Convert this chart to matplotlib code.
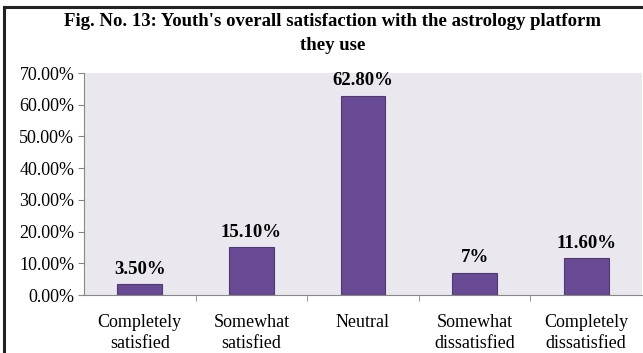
import matplotlib.pyplot as plt
from matplotlib.lines import Line2D
import numpy as np

categories = ['Completely\nsatisfied', 'Somewhat\nsatisfied', 'Neutral',
              'Somewhat\ndissatisfied', 'Completely\ndissatisfied']
values = [3.5, 15.1, 62.8, 7.0, 11.6]
labels = ['3.50%', '15.10%', '62.80%', '7%', '11.60%']
yticks = [0, 10, 20, 30, 40, 50, 60, 70]

plt.rcParams['font.family'] = ['Liberation Serif', 'DejaVu Serif']

fig = plt.figure(figsize=(6.43, 3.53), dpi=100)
ax = fig.add_axes([84 / 643, 1 - 295 / 353, 558 / 643, 222 / 353])
ax.set_facecolor('#EAE7EF')

x = np.arange(len(categories))
ax.bar(x, values, width=0.4, color='#694A94', edgecolor='#4F3A70', linewidth=0.8, zorder=3)

for xi, v, lab in zip(x, values, labels):
    ax.text(xi, v + 2.0, lab, ha='center', va='bottom', fontsize=13.5, fontweight='bold')

ax.set_xlim(-0.5, len(categories) - 0.5)
ax.set_ylim(0, 70)
ax.set_yticks(yticks)
ax.set_yticklabels(['%.2f%%' % t for t in yticks], fontsize=13)
ax.set_xticks(x)
ax.set_xticklabels(categories, fontsize=13, linespacing=1.3)
ax.tick_params(axis='x', length=0, pad=14)
ax.set_xticks(np.arange(0.5, len(categories) - 0.5), minor=True)
ax.tick_params(axis='x', which='minor', length=4, color='#888888')
ax.tick_params(axis='y', length=4, color='#888888', pad=3)

for s in ['top', 'right']:
    ax.spines[s].set_visible(False)
for s in ['left', 'bottom']:
    ax.spines[s].set_color('#888888')
    ax.spines[s].set_linewidth(0.8)

fig.text(333 / 643, 1 - 22 / 353, "Fig. No. 13: Youth's overall satisfaction with the astrology platform",
         ha='center', va='center', fontsize=13.5, fontweight='bold')
fig.text(333 / 643, 1 - 45 / 353, "they use",
         ha='center', va='center', fontsize=13.5, fontweight='bold')

# outer border (left and top)
fig.add_artist(Line2D([4 / 643, 4 / 643], [0, 1 - 7 / 353], color='#222222', linewidth=2.2))
fig.add_artist(Line2D([4 / 643, 1], [1 - 7 / 353, 1 - 7 / 353], color='#222222', linewidth=2.2))

fig.savefig('out.png', dpi=100)
